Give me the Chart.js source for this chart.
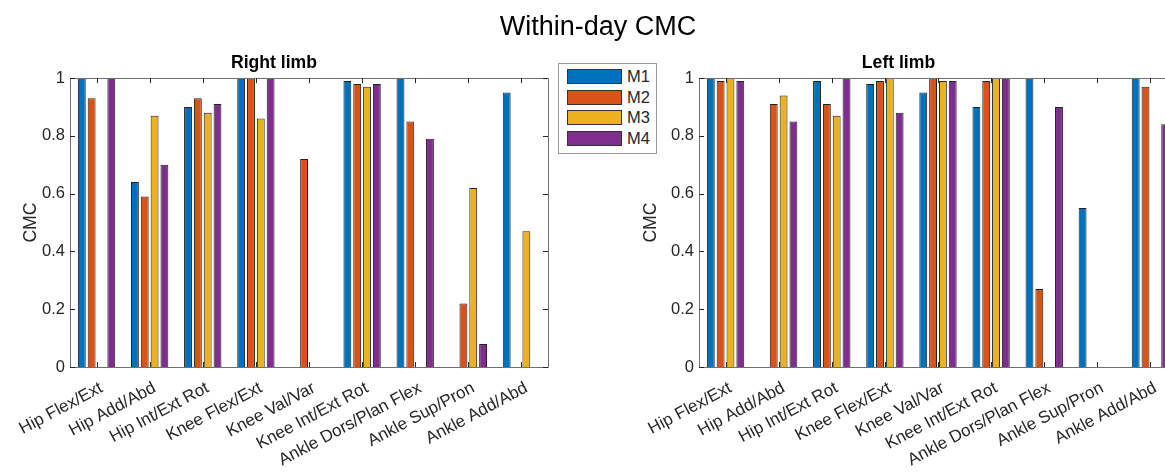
<!DOCTYPE html>
<html>
<head>
<meta charset="utf-8">
<script src="https://cdn.jsdelivr.net/npm/chart.js@4.4.1/dist/chart.umd.min.js"></script>
<style>
  html, body { margin: 0; padding: 0; background: #fff; overflow: hidden; }
  #wrap { position: relative; width: 1165px; height: 474px; overflow: hidden; background: #fff; }
  canvas { position: absolute; top: 0; }
  #cLeft { left: 0; }
  #cRight { left: 620px; }
  #mainTitle { position: absolute; left: 0; top: 13px; width: 1196px; text-align: center;
    font-family: "Liberation Sans", Arial, Helvetica, sans-serif; font-size: 27px; line-height: 1; color: #000; }
  #legend { position: absolute; left: 558px; top: 63px; width: 97px; height: 89px; border: 1px solid #9a9a9a; background: #fff;
    font-family: "Liberation Sans", Arial, Helvetica, sans-serif; font-size: 16.5px; color: #262626; }
  .lrow { position: absolute; left: 8px; height: 14px; }
  .sw { position: absolute; left: 0; top: 0; width: 53px; height: 13px; border: 1px solid #333; }
  .lt { position: absolute; left: 60px; top: -2px; line-height: 18px; white-space: nowrap; }
</style>
</head>
<body>
<div id="wrap">
  <canvas id="cLeft" width="560" height="474"></canvas>
  <canvas id="cRight" width="580" height="474"></canvas>
  <div id="mainTitle">Within-day CMC</div>
  <div id="legend"></div>
</div>
<script>
// ---------- data ----------
const categories = ['Hip Flex/Ext', 'Hip Add/Abd', 'Hip Int/Ext Rot', 'Knee Flex/Ext', 'Knee Val/Var',
  'Knee Int/Ext Rot', 'Ankle Dors/Plan Flex', 'Ankle Sup/Pron', 'Ankle Add/Abd'];
const seriesNames = ['M1', 'M2', 'M3', 'M4'];
const yTicks = [0, 0.2, 0.4, 0.6, 0.8, 1];

// Right limb
const rightM1 = [1.00, 0.64, 0.90, 1.00, 0, 0.99, 1.00, 0, 0.95];
const rightM2 = [0.93, 0.59, 0.93, 1.00, 0.72, 0.98, 0.85, 0.22, 0];
const rightM3 = [0, 0.87, 0.88, 0.86, 0, 0.97, 0, 0.62, 0.47];
const rightM4 = [1.00, 0.70, 0.91, 1.00, 0, 0.98, 0.79, 0.08, 0];

// Left limb
const leftM1 = [1.00, 0, 0.99, 0.98, 0.95, 0.90, 1.00, 0.55, 1.00];
const leftM2 = [0.99, 0.91, 0.91, 0.99, 1.00, 0.99, 0.27, 0, 0.97];
const leftM3 = [1.00, 0.94, 0.87, 1.00, 0.99, 1.00, 0, 0, 0];
const leftM4 = [0.99, 0.85, 1.00, 0.88, 0.99, 1.00, 0.90, 0, 0.84];

const colors = ['#0072BD', '#D95319', '#EDB120', '#7E2F8E'];

// ---------- legend ----------
const legendEl = document.getElementById('legend');
seriesNames.forEach((n, i) => {
  const row = document.createElement('div');
  row.className = 'lrow';
  row.style.top = (5 + i * 20.7) + 'px';
  row.innerHTML = '<div class="sw" style="background:' + colors[i] + '"></div><div class="lt">' + n + '</div>';
  legendEl.appendChild(row);
});

// ---------- MATLAB-like axes box with inward ticks ----------
const matlabBox = {
  id: 'matlabBox',
  afterDraw(chart) {
    const ctx = chart.ctx, a = chart.chartArea;
    const xs = chart.scales.x, ys = chart.scales.y;
    ctx.save();
    ctx.strokeStyle = '#707070';
    ctx.lineWidth = 1;
    ctx.beginPath();
    ctx.rect(Math.round(a.left) + 0.5, Math.round(a.top) + 0.5, Math.round(a.right - a.left), Math.round(a.bottom - a.top));
    ctx.stroke();
    ctx.strokeStyle = '#262626';
    ctx.beginPath();
    const tl = 5;
    xs.ticks.forEach((t, i) => {
      const x = Math.round(xs.getPixelForTick(i)) + 0.5;
      ctx.moveTo(x, a.bottom); ctx.lineTo(x, a.bottom - tl);
      ctx.moveTo(x, a.top); ctx.lineTo(x, a.top + tl);
    });
    ys.ticks.forEach((t) => {
      const y = Math.round(ys.getPixelForValue(t.value)) + 0.5;
      ctx.moveTo(a.left, y); ctx.lineTo(a.left + tl, y);
      ctx.moveTo(a.right, y); ctx.lineTo(a.right - tl, y);
    });
    ctx.stroke();
    ctx.restore();
  }
};

const FONT = '"Liberation Sans", Arial, Helvetica, sans-serif';

function makeChart(id, title, series, yAxisWidth, rightPad) {
  return new Chart(document.getElementById(id), {
    type: 'bar',
    data: {
      labels: categories,
      datasets: series.map((vals, i) => ({
        label: seriesNames[i],
        data: vals,
        backgroundColor: colors[i],
        borderColor: '#222',
        borderWidth: 1,
        categoryPercentage: 0.74,
        barPercentage: 0.8
      }))
    },
    options: {
      responsive: false,
      animation: false,
      devicePixelRatio: 1,
      layout: { padding: { left: 0, right: rightPad, top: 0, bottom: 0 } },
      plugins: {
        legend: { display: false },
        tooltip: { enabled: false },
        title: {
          display: true, text: title, color: '#000',
          font: { family: FONT, size: 17.6, weight: 'bold' },
          padding: { top: 53, bottom: 4 }
        }
      },
      scales: {
        x: {
          grid: { display: false, drawTicks: false },
          border: { display: false },
          ticks: {
            color: '#262626', font: { family: FONT, size: 17 },
            minRotation: 28, maxRotation: 28, autoSkip: false, padding: 11, labelOffset: 5
          },
          afterFit(scale) { scale.height = 107; }
        },
        y: {
          min: 0, max: 1,
          grid: { display: false, drawTicks: false },
          border: { display: false },
          afterBuildTicks(scale) { scale.ticks = yTicks.map(v => ({ value: v })); },
          ticks: {
            color: '#262626', font: { family: FONT, size: 16.5 }, padding: 5,
            callback: (v) => String(Math.round(v * 10) / 10)
          },
          title: {
            display: true, text: 'CMC', color: '#262626',
            font: { family: FONT, size: 17.6 },
            padding: { top: 21, bottom: 0 }
          },
          afterFit(scale) { scale.width = yAxisWidth; }
        }
      }
    },
    plugins: [matlabBox]
  });
}

makeChart('cLeft', 'Right limb', [rightM1, rightM2, rightM3, rightM4], 70, 12);
makeChart('cRight', 'Left limb', [leftM1, leftM2, leftM3, leftM4], 79, 23);
</script>
</body>
</html>
